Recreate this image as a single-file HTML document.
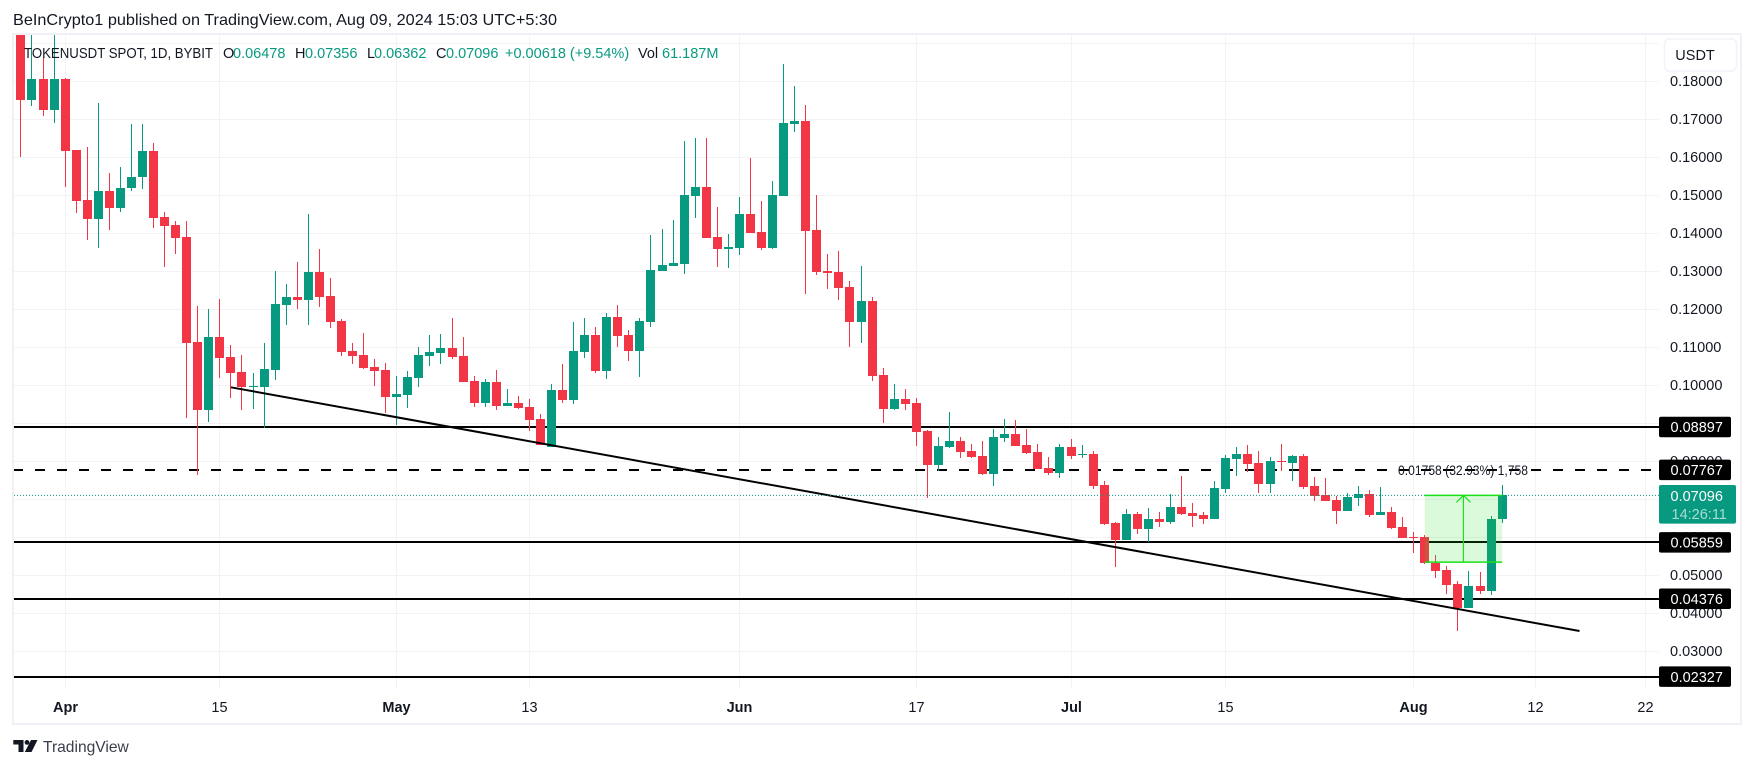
<!DOCTYPE html>
<html lang="en">
<head>
<meta charset="utf-8">
<title>TOKENUSDT 1D chart</title>
<style>
html,body{margin:0;padding:0;background:#fff;width:1754px;height:768px;overflow:hidden}
svg{display:block}
text{font-family:"Liberation Sans",sans-serif;fill:#131722}
</style>
</head>
<body>
<svg id="chart" xmlns="http://www.w3.org/2000/svg" width="1754" height="768" viewBox="0 0 1754 768">
<defs><clipPath id="pane"><rect x="14" y="35" width="1645" height="654"/></clipPath></defs>
<rect x="0" y="0" width="1754" height="768" fill="#ffffff"/>
<text x="13" y="25" font-size="15.6" textLength="544" lengthAdjust="spacingAndGlyphs" fill="#2a2e39">BeInCrypto1 published on TradingView.com, Aug 09, 2024 15:03 UTC+5:30</text>
<g id="grid"></g>
<g clip-path="url(#pane)">
  <g id="levels"></g>
  <g id="candles"></g>
  <g id="drawings"></g>
</g>
<g font-size="14.5">
  <text x="24" y="58" textLength="189" lengthAdjust="spacingAndGlyphs">TOKENUSDT SPOT, 1D, BYBIT</text>
  <text x="223" y="58">O</text>
  <text x="233" y="58" style="fill:#089981">0.06478</text>
  <text x="295" y="58">H</text>
  <text x="305" y="58" style="fill:#089981">0.07356</text>
  <text x="367" y="58">L</text>
  <text x="374" y="58" style="fill:#089981">0.06362</text>
  <text x="436" y="58">C</text>
  <text x="446" y="58" style="fill:#089981">0.07096</text>
  <text x="505" y="58" style="fill:#089981">+0.00618 (+9.54%)</text>
  <text x="638" y="58">Vol</text>
  <text x="662" y="58" style="fill:#089981">61.187M</text>
</g>
<g id="yaxis"></g>
<g id="xaxis"></g>
<g>
  <rect x="1664.5" y="39" width="72" height="32" rx="5" fill="#ffffff" stroke="#f0f3fa" stroke-width="1.5"/>
  <text x="1675.3" y="60" font-size="14.5">USDT</text>
</g>
<g fill="#f0f0f6">
  <rect x="12" y="33" width="1730" height="2"/>
  <rect x="12" y="33" width="2" height="692"/>
  <rect x="1740" y="33" width="2" height="692"/>
  <rect x="12" y="723" width="1730" height="2"/>
</g>
<g>
  <path fill="#131722" d="M13.3 740h10.2v12h-5v-7.5h-5.2zM31 740h6.5l-6 12h-6.7zM29.4 742.4a2.4 2.4 0 1 1-4.8 0a2.4 2.4 0 1 1 4.8 0z"/>
  <text x="43" y="752" font-size="15.6" style="fill:#3a3e4a">TradingView</text>
</g>
</svg>
<script>
const highs = [.19737,.19605,.18632,.19605,.18079,.16184,.16263,.17421,.15579,.15737,.16868,.16868,.16368,.14553,.14316,.14316,.12079,.12000,.12263,.11053,.10789,.10316,.11105,.13000,.12658,.13237,.14500,.13579,.12816,.11737,.11105,.11368,.10684,.10579,.10237,.10368,.11000,.11316,.11342,.11763,.11263,.10237,.10158,.10395,.09895,.09711,.09632,.09237,.10026,.10553,.11658,.11763,.11526,.11895,.12105,.11447,.11763,.13947,.14105,.14342,.16421,.16500,.16500,.14684,.13974,.14947,.15974,.14842,.15368,.18447,.17868,.17368,.15000,.13447,.13526,.12737,.13132,.12316,.10447,.10026,.09895,.09658,.08816,.08632,.09289,.08632,.08447,.08526,.08842,.09105,.09079,.08842,.08447,.08105,.08447,.08579,.08421,.08263,.07474,.06395,.06737,.06658,.06763,.06658,.07132,.07605,.06895,.06658,.07474,.08158,.08368,.08421,.08263,.08105,.08447,.08158,.08184,.07579,.07553,.07079,.07158,.07342,.07237,.07316,.06789,.06526,.06132,.06053,.05526,.05237,.04842,.05105,.05079,.06553,.07356];
const opens = [.19605,.17500,.18053,.17237,.18053,.16184,.14868,.14368,.15105,.14658,.15184,.15474,.16158,.14421,.14211,.13895,.11132,.09342,.11263,.10737,.10342,.09947,.09947,.10395,.12105,.12316,.12237,.12974,.12342,.11684,.10895,.10789,.10474,.10395,.09684,.09737,.10184,.10763,.10842,.10974,.10763,.10105,.09526,.10079,.09447,.09526,.09421,.09105,.08368,.09868,.09605,.10868,.11316,.10368,.11789,.11316,.10895,.11658,.13000,.13132,.13184,.14974,.15211,.13895,.13579,.13605,.14500,.14026,.13605,.14974,.16868,.16947,.14079,.13000,.12974,.12579,.11658,.12211,.10263,.09368,.09632,.09526,.08789,.07895,.08368,.08526,.08263,.08132,.07658,.08605,.08711,.08421,.08237,.07816,.07684,.08368,.08158,.08184,.07368,.06368,.05921,.06605,.06211,.06474,.06395,.06789,.06632,.06579,.06474,.07263,.08053,.08184,.07947,.07395,.08000,.07947,.08132,.07342,.07105,.06974,.06684,.07026,.07132,.06579,.06658,.06263,.06000,.06000,.05316,.05132,.04763,.04132,.04711,.04579,.06478];
const closes = [.17500,.18053,.17237,.18053,.16158,.14842,.14368,.15105,.14658,.15184,.15474,.16158,.14395,.14184,.13868,.11105,.09342,.11263,.10711,.10316,.09947,.09974,.10421,.12132,.12316,.12237,.12974,.12316,.11658,.10868,.10763,.10447,.10368,.09684,.09763,.10211,.10789,.10868,.10974,.10737,.10079,.09526,.10079,.09447,.09526,.09395,.09079,.08421,.09868,.09605,.10895,.11316,.10368,.11789,.11289,.10895,.11684,.13026,.13158,.13211,.15000,.15211,.13868,.13579,.13632,.14500,.14000,.13605,.15000,.16895,.16947,.14053,.12974,.12947,.12553,.11658,.12211,.10237,.09368,.09632,.09500,.08763,.07895,.08395,.08526,.08237,.08105,.07658,.08632,.08711,.08395,.08211,.07789,.07684,.08368,.08132,.08184,.07342,.06342,.05921,.06605,.06211,.06474,.06395,.06789,.06605,.06553,.06474,.07289,.08079,.08184,.07921,.07395,.08000,.07974,.08132,.07316,.07079,.06947,.06684,.07053,.07132,.06579,.06658,.06237,.05974,.05974,.05316,.05105,.04737,.04132,.04711,.04579,.06474,.07096];
const lows = [.16000,.17342,.17079,.16895,.15211,.14526,.13816,.13605,.14079,.14553,.15105,.15158,.14132,.13105,.13447,.09132,.07632,.09026,.10184,.09658,.09342,.09368,.08868,.10132,.11579,.12000,.11579,.12053,.11500,.10763,.10553,.10421,.09974,.09263,.08947,.09395,.09947,.10500,.10553,.10684,.10079,.09421,.09421,.09342,.09447,.09368,.08789,.08421,.08368,.09526,.09500,.10711,.10316,.10158,.11000,.10632,.10211,.11526,.13000,.13132,.12921,.14395,.13868,.13105,.13079,.13421,.14000,.13553,.13579,.14974,.16658,.12395,.12895,.12526,.12237,.11000,.11105,.10105,.09000,.09342,.09342,.08395,.07026,.07737,.08342,.08079,.08079,.07632,.07342,.08500,.08395,.08184,.07789,.07632,.07553,.08053,.08079,.07263,.06316,.05211,.05921,.06079,.05868,.06263,.06342,.06579,.06263,.06342,.06474,.07158,.07605,.07711,.07158,.07158,.07737,.07474,.07263,.06947,.06947,.06342,.06684,.06816,.06526,.06579,.06211,.05974,.05579,.05289,.04921,.04500,.03526,.04132,.04500,.04474,.06362];

const priceTicks = [0.19,0.18,0.17,0.16,0.15,0.14,0.13,0.12,0.11,0.10,0.09,0.08,0.07,0.06,0.05,0.04,0.03];
const hiddenPriceLabels = [0.19];
const dateLabels = ['Apr','15','May','13','Jun','17','Jul','15','Aug','12','22'];
const dateIndexes = [4,18,34,46,65,81,95,109,126,137,147];
const solidLevels = [0.08897,0.05859,0.04376,0.02327];
const dashedLevels = [0.07767];
const lastPrice = 0.07096;
const countdown = '14:26:11';
const trendIndexes = [19,141];
const trendPrices = [0.09939,0.03526];
const measureIndexes = [127,134];
const measurePrices = [0.05338,0.07096];
const measureText = '0.01758 (32.93%) 1,758';

const NS = 'http://www.w3.org/2000/svg';
const UP = '#089981', DOWN = '#F23645', GRID = '#f3f3f6';
const PANE_L = 14, PANE_R = 1659, PANE_B = 689;
function xScale(i){ return 20.9 + 11.054 * i; }
function yScale(p){ return 81 + (0.18 - p) * 3800; }
function pixelX(i){ return Math.round(xScale(i) - 4.5) + 4; }
function mk(tag, attrs, parent){
  const el = document.createElementNS(NS, tag);
  for (const k in attrs) el.setAttribute(k, attrs[k]);
  parent.appendChild(el);
  return el;
}
const gridG = document.getElementById('grid');
const levelsG = document.getElementById('levels');
const candlesG = document.getElementById('candles');
const drawG = document.getElementById('drawings');
const yG = document.getElementById('yaxis');
const xG = document.getElementById('xaxis');

priceTicks.forEach(function(p){
  const y = Math.round(yScale(p));
  const line = mk('rect', {x:PANE_L, y:y, width:PANE_R-PANE_L, height:1, fill:GRID}, gridG);
  
  
  if (hiddenPriceLabels.indexOf(p) < 0) {
    const t = mk('text', {x:1670, y:yScale(p)+5.2, 'font-size':14.5}, yG);
    t.textContent = p.toFixed(5);
    
    
  }
});
dateLabels.forEach(function(label, k){
  const px = pixelX(dateIndexes[k]);
  const line = mk('rect', {x:px, y:35, width:1, height:PANE_B-35, fill:GRID}, gridG);
  
  
  const isMonth = isNaN(Number(label));
  const t = mk('text', {x:px+0.5, y:712, 'font-size':14.5, 'text-anchor':'middle', 'font-weight':isMonth?'bold':'normal'}, xG);
  t.textContent = label;
  
  
});

solidLevels.forEach(function(p){
  const y = Math.round(yScale(p));
  const line = mk('rect', {x:PANE_L, width:PANE_R-PANE_L, y:y-1, height:2, fill:'#000'}, levelsG);
  
  
});
dashedLevels.forEach(function(p){
  const y = Math.round(yScale(p));
  const line = mk('line', {x1:13, x2:PANE_R, y1:y, y2:y, stroke:'#000', 'stroke-width':2, 'stroke-dasharray':'10 12'}, levelsG);
  
  
});

closes.forEach(function(c, i){
  const o = opens[i], color = c >= o ? UP : DOWN;
  const left = Math.round(xScale(i) - 4.5);
  const g = mk('g', {fill:color, 'shape-rendering':'crispEdges'}, candlesG);
  
  
  const yh = Math.round(yScale(highs[i])), yl = Math.round(yScale(lows[i]));
  const wick = mk('rect', {x:left+4, y:yh, width:1, height:Math.max(1, yl-yh)}, g);
  
  
  const top = Math.round(yScale(Math.max(o, c))), bot = Math.round(yScale(Math.min(o, c)));
  const body = mk('rect', {x:left, y:top, width:9, height:Math.max(1, bot-top)}, g);
  
  
});

const trend = mk('line', {x1:xScale(trendIndexes[0]), y1:yScale(trendPrices[0]), x2:xScale(trendIndexes[1]), y2:yScale(trendPrices[1]), stroke:'#000', 'stroke-width':2}, drawG);



const lastY = yScale(lastPrice);
const dotted = mk('line', {x1:PANE_L, x2:PANE_R, y1:lastY, y2:lastY, stroke:UP, 'stroke-width':1, 'stroke-dasharray':'1 2'}, drawG);



const mx1 = xScale(measureIndexes[0]), mx2 = xScale(measureIndexes[1]);
const myTop = yScale(measurePrices[1]), myBot = yScale(measurePrices[0]);
const mc = (mx1 + mx2) / 2;
const mrect = mk('rect', {x:mx1, y:myTop, width:mx2-mx1, height:myBot-myTop, fill:'#1fe01f', 'fill-opacity':0.16}, drawG);


const mtop = mk('line', {x1:mx1, x2:mx2, y1:myTop, y2:myTop, stroke:'#19e019', 'stroke-width':1.5}, drawG);


const mbot = mk('line', {x1:mx1, x2:mx2, y1:myBot, y2:myBot, stroke:'#19e019', 'stroke-width':1.5}, drawG);


const marrow = mk('line', {x1:mc, x2:mc, y1:myBot, y2:myTop, stroke:'#19e019', 'stroke-width':1.2}, drawG);


const mhead = mk('polyline', {points:(mc-7)+','+(myTop+7)+' '+mc+','+myTop+' '+(mc+7)+','+(myTop+7), fill:'none', stroke:'#19e019', 'stroke-width':1.2}, drawG);


const mlabel = mk('text', {x:1398, y:yScale(dashedLevels[0])+5, 'font-size':13.5, textLength:130, lengthAdjust:'spacingAndGlyphs'}, drawG);
mlabel.textContent = measureText;



solidLevels.concat(dashedLevels).forEach(function(p){
  const y = yScale(p);
  const box = mk('rect', {x:1659, y:y-10.2, width:72, height:20.5, rx:2, fill:'#000'}, yG);
  
  
  const t = mk('text', {x:1670.5, y:y+5.2, 'font-size':14.5, style:'fill:#ffffff'}, yG);
  t.textContent = p.toFixed(5);
  
  
});
const tag = mk('rect', {x:1659, y:lastY-10.4, width:77, height:38.7, rx:2, fill:UP}, yG);


const tagVal = mk('text', {x:1670.5, y:lastY+5.5, 'font-size':14.5, style:'fill:#ffffff'}, yG);
tagVal.textContent = lastPrice.toFixed(5);


const tagTime = mk('text', {x:1671.5, y:lastY+23.8, 'font-size':14.5, style:'fill:#a9ddd4'}, yG);
tagTime.textContent = countdown;


</script>
</body>
</html>
